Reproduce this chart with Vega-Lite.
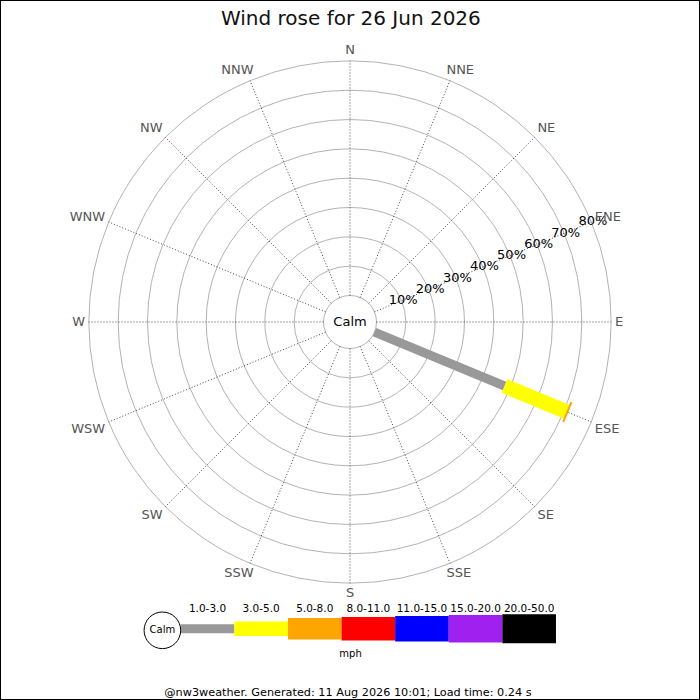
{
  "$schema": "https://vega.github.io/schema/vega-lite/v6.json",
  "width": 700,
  "height": 700,
  "autosize": {"type": "fit", "contains": "padding"},
  "padding": 0,
  "background": "white",
  "config": {
    "view": {"stroke": "black", "strokeWidth": 2},
    "font": "DejaVu Sans",
    "text": {"font": "DejaVu Sans"}
  },
  "datasets": {
    "rings": [{"pct": 0}, {"pct": 10}, {"pct": 20}, {"pct": 30}, {"pct": 40}, {"pct": 50}, {"pct": 60}, {"pct": 70}, {"pct": 80}],
    "ringLabels": [
      {"pct": 10, "label": "10%"}, {"pct": 20, "label": "20%"}, {"pct": 30, "label": "30%"}, {"pct": 40, "label": "40%"},
      {"pct": 50, "label": "50%"}, {"pct": 60, "label": "60%"}, {"pct": 70, "label": "70%"}, {"pct": 80, "label": "80%"}
    ],
    "directions": [
      {"dir": 0, "name": "N"}, {"dir": 22.5, "name": "NNE"}, {"dir": 45, "name": "NE"}, {"dir": 67.5, "name": "ENE"},
      {"dir": 90, "name": "E"}, {"dir": 112.5, "name": "ESE"}, {"dir": 135, "name": "SE"}, {"dir": 157.5, "name": "SSE"},
      {"dir": 180, "name": "S"}, {"dir": 202.5, "name": "SSW"}, {"dir": 225, "name": "SW"}, {"dir": 247.5, "name": "WSW"},
      {"dir": 270, "name": "W"}, {"dir": 292.5, "name": "WNW"}, {"dir": 315, "name": "NW"}, {"dir": 337.5, "name": "NNW"}
    ],
    "wind": [
      {"dir": 112.5, "speed": "1.0-3.0", "rank": 0, "from": 0, "to": 48.0},
      {"dir": 112.5, "speed": "3.0-5.0", "rank": 1, "from": 48.0, "to": 70.8},
      {"dir": 112.5, "speed": "5.0-8.0", "rank": 2, "from": 70.8, "to": 71.5}
    ],
    "classes": [
      {"speed": "1.0-3.0", "rank": 0}, {"speed": "3.0-5.0", "rank": 1}, {"speed": "5.0-8.0", "rank": 2},
      {"speed": "8.0-11.0", "rank": 3}, {"speed": "11.0-15.0", "rank": 4}, {"speed": "15.0-20.0", "rank": 5},
      {"speed": "20.0-50.0", "rank": 6}
    ]
  },
  "layer": [
    {
      "data": {"name": "rings"},
      "transform": [{"calculate": "datum.pct + 9.033", "as": "u"}],
      "mark": {"type": "point", "shape": "circle", "filled": false, "stroke": "#b3b3b3", "strokeWidth": 1, "opacity": 1},
      "encoding": {
        "x": {"datum": 0, "type": "quantitative", "scale": {"domain": [-119.3, 119.3], "nice": false, "zero": false}, "axis": null},
        "y": {"datum": 0, "type": "quantitative", "scale": {"domain": [-128.85, 109.76], "nice": false, "zero": false}, "axis": null},
        "size": {"field": "u", "type": "quantitative", "legend": null, "scale": {"type": "pow", "exponent": 2, "domain": [0, 89.033], "range": [0, 272826], "zero": true, "nice": false}}
      }
    },
    {
      "data": {"name": "directions"},
      "transform": [
        {"calculate": "9.033 * sin(datum.dir * PI / 180)", "as": "x0"},
        {"calculate": "89.033 * sin(datum.dir * PI / 180)", "as": "x1"},
        {"calculate": "9.033 * cos(datum.dir * PI / 180)", "as": "y0"},
        {"calculate": "89.033 * cos(datum.dir * PI / 180)", "as": "y1"}
      ],
      "mark": {"type": "rule", "color": "#333333", "strokeWidth": 0.9, "strokeDash": [1, 2]},
      "encoding": {
        "x": {"field": "x0", "type": "quantitative", "scale": {"domain": [-119.3, 119.3], "nice": false, "zero": false}, "axis": null},
        "x2": {"field": "x1"},
        "y": {"field": "y0", "type": "quantitative", "scale": {"domain": [-128.85, 109.76], "nice": false, "zero": false}, "axis": null},
        "y2": {"field": "y1"}
      }
    },
    {
      "data": {"name": "wind"},
      "transform": [
        {"calculate": "(datum.from + 9.033) * sin(datum.dir * PI / 180)", "as": "x0"},
        {"calculate": "(datum.to + 9.033) * sin(datum.dir * PI / 180)", "as": "x1"},
        {"calculate": "(datum.from + 9.033) * cos(datum.dir * PI / 180)", "as": "y0"},
        {"calculate": "(datum.to + 9.033) * cos(datum.dir * PI / 180)", "as": "y1"}
      ],
      "mark": {"type": "rule", "strokeCap": "butt"},
      "encoding": {
        "x": {"field": "x0", "type": "quantitative", "scale": {"domain": [-119.3, 119.3], "nice": false, "zero": false}, "axis": null},
        "x2": {"field": "x1"},
        "y": {"field": "y0", "type": "quantitative", "scale": {"domain": [-128.85, 109.76], "nice": false, "zero": false}, "axis": null},
        "y2": {"field": "y1"},
        "color": {"field": "speed", "type": "nominal", "legend": null,
          "scale": {"domain": ["1.0-3.0", "3.0-5.0", "5.0-8.0", "8.0-11.0", "11.0-15.0", "15.0-20.0", "20.0-50.0"],
                    "range": ["#999999", "#ffff00", "#ffa500", "#ff0000", "#0000ff", "#a020f0", "#000000"]}},
        "strokeWidth": {"field": "rank", "type": "quantitative", "legend": null,
          "scale": {"type": "threshold", "domain": [0.5, 1.5, 2.5, 3.5, 4.5, 5.5], "range": [9, 14.7, 21.3, 23.3, 25.3, 27.3, 29]}}
      }
    },
    {
      "data": {"name": "ringLabels"},
      "transform": [
        {"calculate": "(datum.pct + 9.6) * sin(67.5 * PI / 180)", "as": "lx"},
        {"calculate": "(datum.pct + 9.6) * cos(67.5 * PI / 180)", "as": "ly"}
      ],
      "mark": {"type": "text", "fontSize": 13, "color": "black", "align": "center", "baseline": "middle"},
      "encoding": {
        "x": {"field": "lx", "type": "quantitative", "scale": {"domain": [-119.3, 119.3], "nice": false, "zero": false}, "axis": null},
        "y": {"field": "ly", "type": "quantitative", "scale": {"domain": [-128.85, 109.76], "nice": false, "zero": false}, "axis": null},
        "text": {"field": "label"}
      }
    },
    {
      "data": {"name": "directions"},
      "transform": [
        {"calculate": "90.33 * sin(datum.dir * PI / 180)", "as": "lx"},
        {"calculate": "90.33 * cos(datum.dir * PI / 180)", "as": "ly"}
      ],
      "mark": {
        "type": "text", "fontSize": 13, "color": "#555555",
        "align": {"expr": "datum.dir > 1 && datum.dir < 179 ? 'left' : (datum.dir > 181 && datum.dir < 359 ? 'right' : 'center')"},
        "baseline": {"expr": "cos(datum.dir * PI / 180) > 0.5 ? 'bottom' : (cos(datum.dir * PI / 180) > 0.1 ? 'alphabetic' : (cos(datum.dir * PI / 180) > -0.1 ? 'middle' : 'top'))"},
        "dx": {"expr": "abs(sin(datum.dir * PI / 180)) > 0.1 && abs(sin(datum.dir * PI / 180)) < 0.5 ? (sin(datum.dir * PI / 180) > 0 ? -5 : 5) : 0"}
      },
      "encoding": {
        "x": {"field": "lx", "type": "quantitative", "scale": {"domain": [-119.3, 119.3], "nice": false, "zero": false}, "axis": null},
        "y": {"field": "ly", "type": "quantitative", "scale": {"domain": [-128.85, 109.76], "nice": false, "zero": false}, "axis": null},
        "text": {"field": "name"}
      }
    },
    {
      "data": {"values": [{"t": "Calm"}]},
      "mark": {"type": "text", "fontSize": 13, "color": "black", "align": "center", "baseline": "middle"},
      "encoding": {
        "x": {"datum": 0, "type": "quantitative", "scale": {"domain": [-119.3, 119.3], "nice": false, "zero": false}, "axis": null},
        "y": {"datum": 0, "type": "quantitative", "scale": {"domain": [-128.85, 109.76], "nice": false, "zero": false}, "axis": null},
        "text": {"field": "t"}
      }
    },
    {
      "data": {"values": [{"t": "Wind rose for 26 Jun 2026"}]},
      "mark": {"type": "text", "fontSize": 20, "color": "#111111", "align": "center", "baseline": "middle"},
      "encoding": {
        "x": {"datum": 0.3, "type": "quantitative", "scale": {"domain": [-119.3, 119.3], "nice": false, "zero": false}, "axis": null},
        "y": {"datum": 103.3, "type": "quantitative", "scale": {"domain": [-128.85, 109.76], "nice": false, "zero": false}, "axis": null},
        "text": {"field": "t"}
      }
    },
    {
      "data": {"name": "classes"},
      "transform": [
        {"calculate": "-57.71 + 18.274 * datum.rank", "as": "lx0"},
        {"calculate": "-57.71 + 18.274 * (datum.rank + 1)", "as": "lx1"}
      ],
      "mark": {"type": "rule", "strokeCap": "butt"},
      "encoding": {
        "x": {"field": "lx0", "type": "quantitative", "scale": {"domain": [-119.3, 119.3], "nice": false, "zero": false}, "axis": null},
        "x2": {"field": "lx1"},
        "y": {"datum": -104.57, "type": "quantitative", "scale": {"domain": [-128.85, 109.76], "nice": false, "zero": false}, "axis": null},
        "color": {"field": "speed", "type": "nominal", "legend": null,
          "scale": {"domain": ["1.0-3.0", "3.0-5.0", "5.0-8.0", "8.0-11.0", "11.0-15.0", "15.0-20.0", "20.0-50.0"],
                    "range": ["#999999", "#ffff00", "#ffa500", "#ff0000", "#0000ff", "#a020f0", "#000000"]}},
        "strokeWidth": {"field": "rank", "type": "quantitative", "legend": null,
          "scale": {"type": "threshold", "domain": [0.5, 1.5, 2.5, 3.5, 4.5, 5.5], "range": [9, 14.7, 21.3, 23.3, 25.3, 27.3, 29]}}
      }
    },
    {
      "data": {"name": "classes"},
      "transform": [{"calculate": "-57.71 + 18.274 * (datum.rank + 0.5)", "as": "lm"}],
      "mark": {"type": "text", "fontSize": 10.5, "color": "black", "align": "center", "baseline": "middle"},
      "encoding": {
        "x": {"field": "lm", "type": "quantitative", "scale": {"domain": [-119.3, 119.3], "nice": false, "zero": false}, "axis": null},
        "y": {"datum": -97.9, "type": "quantitative", "scale": {"domain": [-128.85, 109.76], "nice": false, "zero": false}, "axis": null},
        "text": {"field": "speed"}
      }
    },
    {
      "data": {"values": [{"t": "Calm"}]},
      "mark": {"type": "point", "shape": "circle", "size": 1340, "filled": false, "stroke": "black", "strokeWidth": 1, "opacity": 1},
      "encoding": {
        "x": {"datum": -63.95, "type": "quantitative", "scale": {"domain": [-119.3, 119.3], "nice": false, "zero": false}, "axis": null},
        "y": {"datum": -105.1, "type": "quantitative", "scale": {"domain": [-128.85, 109.76], "nice": false, "zero": false}, "axis": null}
      }
    },
    {
      "data": {"values": [{"t": "Calm"}]},
      "mark": {"type": "text", "fontSize": 10, "color": "black", "align": "center", "baseline": "middle"},
      "encoding": {
        "x": {"datum": -63.95, "type": "quantitative", "scale": {"domain": [-119.3, 119.3], "nice": false, "zero": false}, "axis": null},
        "y": {"datum": -105.1, "type": "quantitative", "scale": {"domain": [-128.85, 109.76], "nice": false, "zero": false}, "axis": null},
        "text": {"field": "t"}
      }
    },
    {
      "data": {"values": [{"t": "mph"}]},
      "mark": {"type": "text", "fontSize": 10, "color": "black", "align": "center", "baseline": "middle"},
      "encoding": {
        "x": {"datum": 0.2, "type": "quantitative", "scale": {"domain": [-119.3, 119.3], "nice": false, "zero": false}, "axis": null},
        "y": {"datum": -113.05, "type": "quantitative", "scale": {"domain": [-128.85, 109.76], "nice": false, "zero": false}, "axis": null},
        "text": {"field": "t"}
      }
    },
    {
      "data": {"values": [{"t": "@nw3weather. Generated: 11 Aug 2026 10:01; Load time: 0.24 s"}]},
      "mark": {"type": "text", "fontSize": 11.25, "color": "black", "align": "center", "baseline": "middle"},
      "encoding": {
        "x": {"datum": -0.7, "type": "quantitative", "scale": {"domain": [-119.3, 119.3], "nice": false, "zero": false}, "axis": null},
        "y": {"datum": -126.35, "type": "quantitative", "scale": {"domain": [-128.85, 109.76], "nice": false, "zero": false}, "axis": null},
        "text": {"field": "t"}
      }
    }
  ]
}
